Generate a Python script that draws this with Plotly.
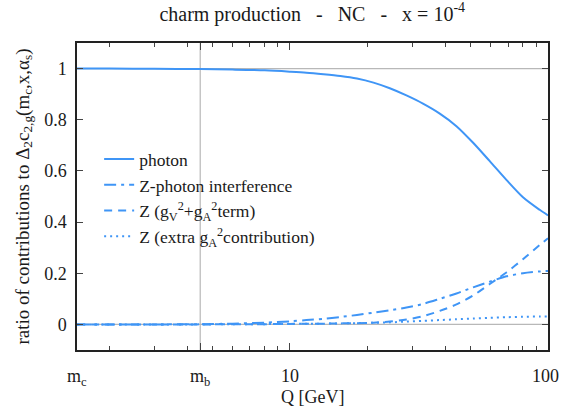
import plotly.graph_objects as go
import math

# ---- data ----
Q = [1.5, 2, 3, 4.5, 6, 8, 10, 11.6, 13.5, 15.7, 18.2, 21.1, 24.4, 28.3, 32.8, 38.1,
     44.2, 51.3, 59.5, 69, 80, 92.8, 100]
photon = [1.000, 1.000, 0.999, 0.998, 0.996, 0.993, 0.988, 0.984, 0.978, 0.971, 0.961, 0.945,
          0.923, 0.895, 0.863, 0.824, 0.775, 0.710, 0.638, 0.565, 0.497, 0.448, 0.426]
interference = [0.0, 0.0, 0.0, 0.001, 0.003, 0.007, 0.012, 0.017, 0.022, 0.029, 0.037, 0.046,
                0.055, 0.066, 0.080, 0.100, 0.121, 0.145, 0.167, 0.188, 0.200, 0.207, 0.209]
z_vector = [0.0, 0.0, 0.0, 0.0, 0.0005, 0.001, 0.002, 0.0025, 0.003, 0.004, 0.005, 0.007,
            0.011, 0.019, 0.032, 0.053, 0.078, 0.113, 0.158, 0.203, 0.255, 0.310, 0.337]
z_axial = [0.0, 0.0, 0.0, 0.0002, 0.0005, 0.001, 0.002, 0.0025, 0.003, 0.004, 0.005, 0.0065,
           0.008, 0.011, 0.014, 0.017, 0.020, 0.023, 0.026, 0.028, 0.030, 0.031, 0.031]

names = ["photon", "Z-photon interference",
         "Z (g<sub>V</sub><sup>2</sup>+g<sub>A</sub><sup>2</sup>term)",
         "Z (extra g<sub>A</sub><sup>2</sup>contribution)"]
dashes = ["solid", "12px,5px,3px,5px", "8px,6px", "2px,4px"]

m_c, m_b = 1.5, 4.5
x_tickvals = [m_c, m_b, 10, 100]
x_ticktext = ["m<sub>c</sub>", "m<sub>b</sub>", "10", "100"]
x_minor = [2, 3, 4, 5, 6, 7, 8, 9, 20, 30, 40, 50, 60, 70, 80, 90]
y_tickvals = [0, 0.2, 0.4, 0.6, 0.8, 1]
y_ticktext = ["0", "0.2", "0.4", "0.6", "0.8", "1"]

color = "#3f95f6"
FONT = "Liberation Serif, DejaVu Serif, serif"
TXT = "#1a1a1a"
SP = "\u00a0"

fig = go.Figure()
for i, ys in enumerate([photon, interference, z_vector, z_axial]):
    fig.add_trace(go.Scatter(
        x=Q, y=ys, mode="lines", name=names[i], legendgroup=str(i),
        line=dict(color=color, width=2, dash=dashes[i], shape="spline", smoothing=0.8),
    ))

grey = "#b8b8b8"
fig.add_shape(type="line", xref="paper", yref="y", x0=0, x1=1, y0=1, y1=1,
              line=dict(color=grey, width=1.2), layer="below")
fig.add_shape(type="line", xref="paper", yref="y", x0=0, x1=1, y0=0, y1=0,
              line=dict(color=grey, width=1.2), layer="below")
fig.add_shape(type="line", xref="x", yref="paper", x0=m_b, x1=m_b, y0=0, y1=1,
              line=dict(color=grey, width=1.2), layer="below")

# x tick labels as annotations (so "100" can sit inside the page like the reference)
for v, t in zip(x_tickvals, x_ticktext):
    last = (v == x_tickvals[-1])
    fig.add_annotation(x=math.log10(v), xref="x", y=-0.047, yref="paper",
                       text=t, showarrow=False,
                       xanchor="right" if last else "center", yanchor="top",
                       xshift=13 if last else 0,
                       font=dict(family=FONT, size=18, color=TXT))

fig.add_annotation(x=0.5, xref="paper", y=-0.115, yref="paper", text="Q [GeV]",
                   showarrow=False, xanchor="center", yanchor="top",
                   font=dict(family=FONT, size=18, color=TXT))

fig.update_layout(
    width=562, height=408,
    margin=dict(l=77, r=14, t=43, b=58, autoexpand=False),
    paper_bgcolor="white", plot_bgcolor="white",
    font=dict(family=FONT, size=18, color=TXT),
    title=dict(text=f"charm production{SP*3}-{SP*3}NC{SP*3}-{SP*3}x = 10<sup>-4</sup>",
               x=0.5556, xanchor="center", y=0.984, yanchor="top",
               font=dict(family=FONT, size=20, color=TXT)),
    showlegend=True,
    legend=dict(x=0.047, y=0.68, xanchor="left", yanchor="top",
                bgcolor="rgba(0,0,0,0)", font=dict(family=FONT, size=17.5, color=TXT),
                tracegroupgap=0, itemwidth=30),
    xaxis=dict(type="log", range=[math.log10(m_c), 2],
               tickvals=x_tickvals, showticklabels=False,
               ticks="inside", ticklen=7, tickcolor="#444", tickwidth=1,
               minor=dict(tickvals=x_minor, ticks="inside", ticklen=4,
                          tickcolor="#444", tickwidth=1),
               showline=True, linecolor="#222", linewidth=1.5, mirror="ticks",
               showgrid=False, zeroline=False, automargin=False),
    yaxis=dict(range=[-0.1, 1.1], tickvals=y_tickvals, ticktext=y_ticktext,
               ticks="inside", ticklen=6, tickcolor="#444", tickwidth=1,
               showline=True, linecolor="#222", linewidth=1.5, mirror="ticks",
               showgrid=False, zeroline=False, ticklabelstandoff=5, automargin=False,
               tickfont=dict(family=FONT, size=18, color=TXT),
               title=dict(text="ratio of contributions to Δ<sub>2</sub>c<sub>2,g</sub>(m<sub>c</sub>,x,α<sub>s</sub>)",
                          standoff=10, font=dict(family=FONT, size=19, color=TXT))),
)

fig.write_html("out.html", config={"displayModeBar": False},
               post_script="document.body.style.margin='0';document.body.style.overflow='hidden';")
